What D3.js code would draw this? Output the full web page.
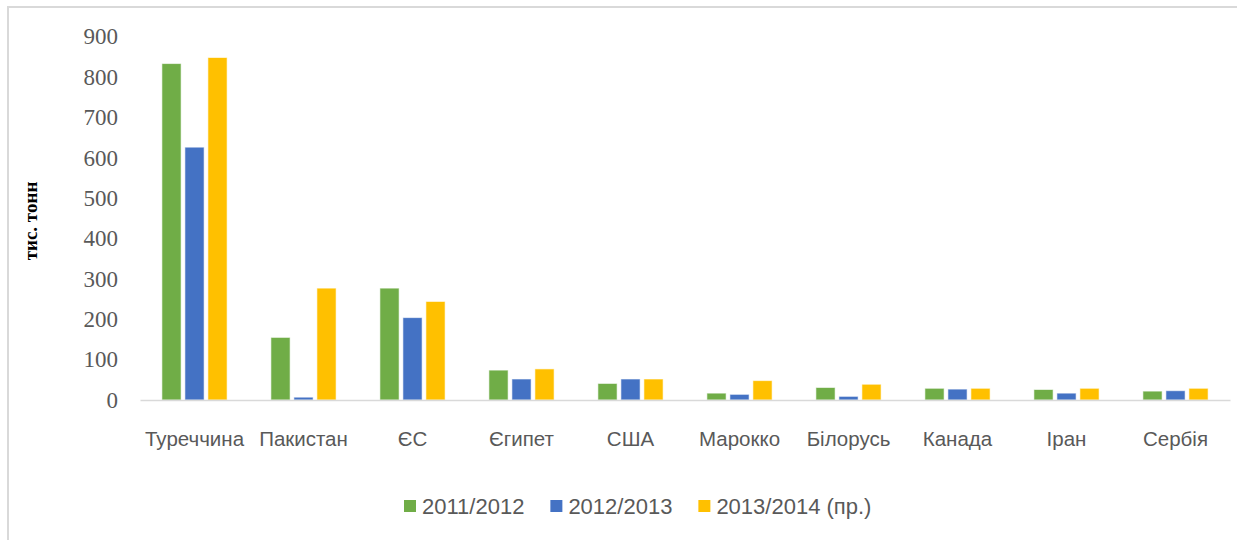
<!DOCTYPE html>
<html><head><meta charset="utf-8">
<script src="https://cdn.jsdelivr.net/npm/d3@7"></script>
<style>html,body{margin:0;padding:0;background:#fff;}svg{display:block;}</style>
</head><body>
<svg id="c" width="1237" height="540"></svg>
<script>
const categories = ["Туреччина","Пакистан","ЄС","Єгипет","США","Марокко","Білорусь","Канада","Іран","Сербія"];
const seriesNames = ["2011/2012","2012/2013","2013/2014 (пр.)"];
const s2011 = [833,155,277,74,41,17,31,29,26,22];
const s2012 = [626,7,204,52,52,14,9,27,17,23];
const s2013 = [848,277,244,77,52,48,39,29,29,29];
const colors = ["#70ad47","#4472c4","#ffc000"];
const yTicks = [0,100,200,300,400,500,600,700,800,900];
const yTitle = "тис. тонн";

const seriesValues = [s2011,s2012,s2013];
const svg = d3.select("#c");

// outer frame
svg.append("path").attr("d","M8,540 V7 H1237").attr("fill","none").attr("stroke","#d9d9d9").attr("stroke-width",2);

const x0 = d3.scaleBand().domain(categories).range([140,1230]).paddingInner(0).paddingOuter(0);
const x1 = d3.scaleBand().domain(seriesNames).range([0,x0.bandwidth()]).paddingInner(0.165).paddingOuter(0.952);
const y = d3.scaleLinear().domain([0,900]).range([400,36.5]);

// y axis labels
const yAxis = d3.axisLeft(y).tickValues(yTicks).tickSize(0).tickPadding(0);
const gy = svg.append("g").attr("transform","translate(118,0)").call(yAxis);
gy.select(".domain").remove();
gy.selectAll("text").attr("font-family","'Liberation Serif', serif").attr("font-size",23).attr("fill","#595959");

// bars
categories.forEach((c,i)=>{
  const g = svg.append("g").attr("transform",`translate(${x0(c)},0)`);
  seriesNames.forEach((s,j)=>{
    const v = seriesValues[j][i];
    g.append("rect").attr("x",x1(s)).attr("width",x1.bandwidth())
     .attr("y",y(v)).attr("height",y(0)-y(v))
     .attr("fill",colors[j]).attr("stroke","#ffffff").attr("stroke-opacity",0.6).attr("stroke-width",1);
  });
});

// x axis
const xAxis = d3.axisBottom(x0).tickSize(0).tickPadding(31);
const gx = svg.append("g").attr("transform","translate(0,400)").call(xAxis);
gx.select(".domain").attr("stroke","#d9d9d9").attr("stroke-width",1.5);
gx.selectAll("text").attr("font-family","'Liberation Sans', sans-serif").attr("font-size",20.5).attr("fill","#595959");

// y title
svg.append("text").attr("transform","translate(37,221) rotate(-90)")
  .attr("text-anchor","middle").attr("font-family","'Liberation Serif', serif")
  .attr("font-weight","bold").attr("font-size",19).attr("fill","#000").text(yTitle);

// legend
const lg = svg.append("g");
let lx = 404;
seriesNames.forEach((s,j)=>{
  lg.append("rect").attr("x",lx).attr("y",500).attr("width",12).attr("height",12).attr("fill",colors[j]);
  const t = lg.append("text").attr("x",lx+18).attr("y",514)
    .attr("font-family","'Liberation Sans', sans-serif").attr("font-size",22).attr("fill","#595959").text(s);
  lx += 18 + t.node().getComputedTextLength() + 26;
});
</script>
</body></html>
